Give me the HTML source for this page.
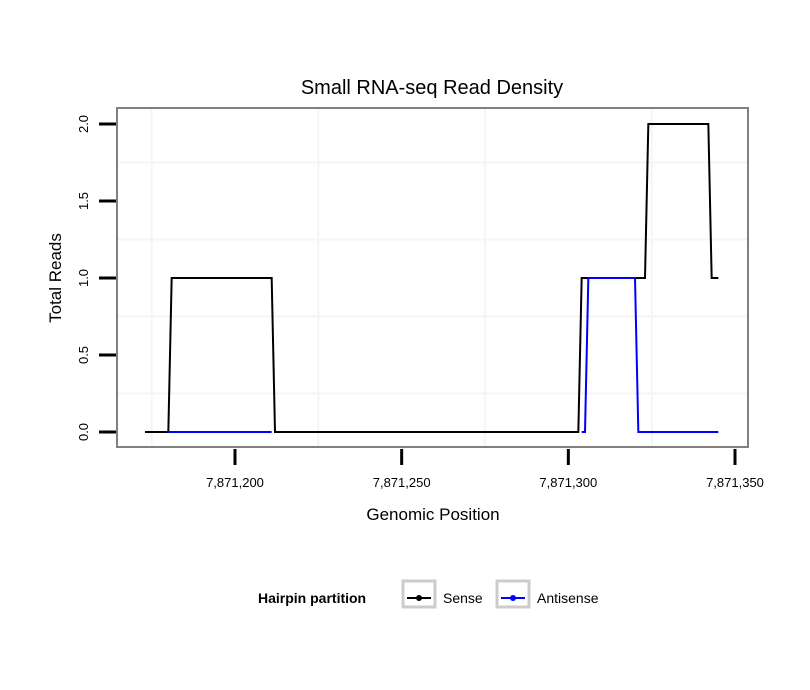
<!DOCTYPE html>
<html><head><meta charset="utf-8"><style>
body{margin:0;background:#fff;}
svg{display:block;font-family:"Liberation Sans",sans-serif;}
</style></head><body>
<svg id="chart" width="810" height="690">
<rect width="810" height="690" fill="#fff"/>
<text x="432" y="94" font-size="20" text-anchor="middle">Small RNA-seq Read Density</text>
<g id="grid"></g>
<g id="series"></g>
<rect x="117" y="108" width="631" height="339" fill="none" stroke="#808080" stroke-width="2"/>
<g id="axes"></g>
<text x="433" y="520" font-size="17" text-anchor="middle">Genomic Position</text>
<text transform="translate(61,278) rotate(-90)" font-size="17" text-anchor="middle">Total Reads</text>
<g>
<text x="258" y="603" font-size="14" font-weight="bold">Hairpin partition</text>
<g>
<rect x="403" y="581" width="32" height="26" fill="#fff" stroke="#ccc" stroke-width="3"/>
<line x1="407" y1="598" x2="431" y2="598" stroke="#000" stroke-width="2"/>
<circle cx="419" cy="598" r="3" fill="#000"/>
<text x="443" y="603" font-size="14">Sense</text>
</g>
<g>
<rect x="497" y="581" width="32" height="26" fill="#fff" stroke="#ccc" stroke-width="3"/>
<line x1="501" y1="598" x2="525" y2="598" stroke="#0000ff" stroke-width="2"/>
<circle cx="513" cy="598" r="3" fill="#0000ff"/>
<text x="537" y="603" font-size="14">Antisense</text>
</g>
</g>
</svg>
<script>
const senseX = [7871173,7871180,7871181,7871211,7871212,7871303,7871304,7871323,7871324,7871342,7871343,7871345];
const senseY = [0,0,1,1,0,0,1,1,2,2,1,1];
const antiX = [7871180,7871211,null,7871304,7871305,7871306,7871320,7871321,7871345];
const antiY = [0,0,null,0,0,1,1,0,0];
const xTicks = [7871200,7871250,7871300,7871350];
const xTickLabels = ["7,871,200","7,871,250","7,871,300","7,871,350"];
const yTicks = [0,0.5,1,1.5,2];
const yTickLabels = ["0.0","0.5","1.0","1.5","2.0"];
const xGrid = [7871175,7871225,7871275,7871325];
const yGrid = [0.25,0.75,1.25,1.75];

const NS="http://www.w3.org/2000/svg";
function sx(v){return 235+(v-7871200)*(500/150);}
function sy(v){return 432-v*154;}
function mk(tag,attrs,parent){const e=document.createElementNS(NS,tag);for(const k in attrs)e.setAttribute(k,attrs[k]);parent.appendChild(e);return e;}
const grid=document.getElementById('grid'),axes=document.getElementById('axes'),series=document.getElementById('series');
xGrid.forEach(v=>{const l=mk('line',{x1:sx(v),x2:sx(v),y1:108,y2:447,stroke:'#f5f5f5','stroke-width':2},grid);

});
yGrid.forEach(v=>{const l=mk('line',{x1:117,x2:748,y1:sy(v),y2:sy(v),stroke:'#f5f5f5','stroke-width':2},grid);

});
xTicks.forEach((v,i)=>{const t=mk('line',{x1:sx(v),x2:sx(v),y1:449,y2:465,stroke:'#000','stroke-width':3},axes);


const tx=mk('text',{x:sx(v),y:487,'font-size':13,'text-anchor':'middle'},axes);tx.textContent=xTickLabels[i];

});
yTicks.forEach((v,i)=>{const t=mk('line',{x1:99,x2:116,y1:sy(v),y2:sy(v),stroke:'#000','stroke-width':3},axes);


const tx=mk('text',{transform:`translate(88,${sy(v)}) rotate(-90)`,'font-size':13,'text-anchor':'middle'},axes);tx.textContent=yTickLabels[i];

});
function line(xs,ys,color,name){
  let d='',start=true;
  xs.forEach((x,i)=>{
    if(x===null||ys[i]===null){start=true;return;}
    d+=(start?'M':'L')+sx(x)+','+sy(ys[i])+' ';start=false;
  });
  const p=mk('path',{d:d,fill:'none',stroke:color,'stroke-width':2},series);
  
  
}
line(senseX,senseY,'#000','sense-line');
line(antiX,antiY,'#0000ff','antisense-line');
</script>
</body></html>
